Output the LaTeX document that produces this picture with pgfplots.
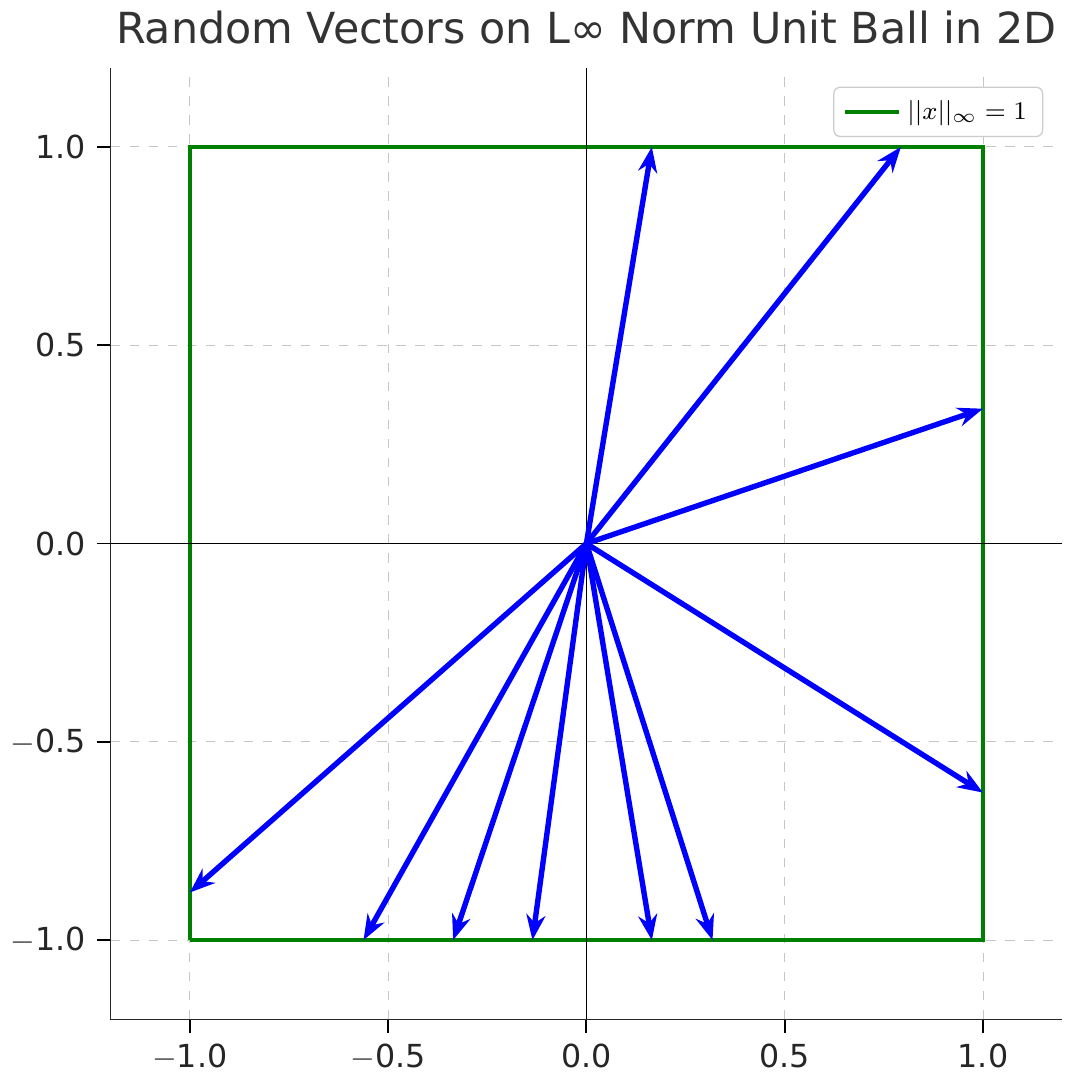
\documentclass[border=0pt]{standalone}
\usepackage{pgfplots}
\pgfplotsset{compat=1.18}
\usetikzlibrary{arrows.meta}
\usepackage{fontspec}
\setmainfont{DejaVu Sans}
\definecolor{mgreen}{RGB}{0,128,0}
\begin{document}
\begin{tikzpicture}
\begin{axis}[
  scale only axis, width=300pt, height=300pt,
  xmin=-1.2, xmax=1.2, ymin=-1.2, ymax=1.2,
  axis x line*=bottom, axis y line*=left,
  axis line style={-, line width=0.6pt, color=black!85},
  xtick={-1,-0.5,0,0.5,1}, ytick={-1,-0.5,0,0.5,1},
  xticklabels={$-$1.0,$-$0.5,0.0,0.5,1.0},
  yticklabels={$-$1.0,$-$0.5,0.0,0.5,1.0},
  tick align=outside, tick style={black, line width=0.6pt},
  ticklabel style={font=\fontsize{10}{12}\selectfont, text=black!85},
  grid=major, grid style={dashed, gray!45, line width=0.3pt},
  title={Random Vectors on L∞ Norm Unit Ball in 2D},
  title style={font=\fontsize{13.5}{16}\selectfont, text=black!80, yshift=-2pt},
  legend style={at={(0.98,0.98)}, anchor=north east, font=\fontsize{8}{10}\selectfont, draw=black!20, rounded corners=2pt},
]
\addplot[mgreen, line width=1.1pt] coordinates {(-1,-1) (1,-1) (1,1) (-1,1) (-1,-1)};
\addlegendentry{$||x||_\infty = 1$}
\draw[black, line width=0.4pt] (axis cs:-1.2,0) -- (axis cs:1.2,0);
\draw[black, line width=0.4pt] (axis cs:0,-1.2) -- (axis cs:0,1.2);
\addplot[blue, line width=1.7pt, -{Stealth[length=8pt,width=6pt]},
  quiver={u=\thisrow{u}, v=\thisrow{v}}] table {
x y u v
0 0 0.165 1
0 0 0.793 1
0 0 1 0.34
0 0 1 -0.628
0 0 -1 -0.88
0 0 -0.562 -1
0 0 -0.336 -1
0 0 -0.136 -1
0 0 0.165 -1
0 0 0.318 -1
};
\end{axis}
\end{tikzpicture}
\end{document}
